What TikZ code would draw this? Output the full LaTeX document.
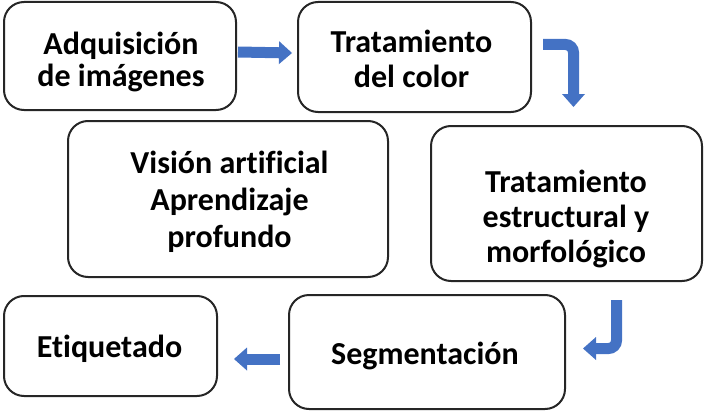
\documentclass[tikz,border=0pt]{standalone}
\usepackage{fontspec}
\setmainfont[Ligatures=CommonOff]{Carlito}
\usetikzlibrary{arrows.meta,calc}
\definecolor{arrowblue}{HTML}{4472C4}
\definecolor{boxline}{HTML}{262626}
\begin{document}
\begin{tikzpicture}[x=1pt,y=-1pt,
  box/.style={draw=boxline, line width=2pt, rounded corners=20pt, fill=white, inner sep=0pt},
  txt/.style={align=center, inner sep=0pt},
  blockarrow/.style={draw=arrowblue, line width=11pt, line cap=butt,
    -{Triangle[width=23pt,length=13pt,line width=0pt]}}]
\useasboundingbox (0,0) rectangle (704,412);
% boxes
\node[box, minimum width=232pt, minimum height=108pt] (b1) at (120,56) {};
\node[box, minimum width=233pt, minimum height=110pt] (b2) at (414.5,57) {};
\node[box, minimum width=320pt, minimum height=156pt] (b3) at (228,199) {};
\node[box, minimum width=271pt, minimum height=155pt] (b4) at (566.5,203.5) {};
\node[box, minimum width=213pt, minimum height=100pt] (b5) at (110.5,346) {};
\node[box, minimum width=276pt, minimum height=114pt] (b6) at (427,352) {};
% texts
\node[txt, font=\fontsize{32}{32}\selectfont\bfseries] (t1) at (121,62) {Adquisición\\de imágenes};
\node[txt, font=\fontsize{32}{35}\selectfont\bfseries] (t2) at (411.5,59) {Tratamiento\\del color};
\node[txt, font=\fontsize{32}{37}\selectfont\bfseries] (t3) at (229.5,202) {Visión artificial\\Aprendizaje\\profundo};
\node[txt, font=\fontsize{32}{35}\selectfont\bfseries] (t4) at (566,219) {Tratamiento\\estructural y\\morfológico};
\node[txt, font=\fontsize{32}{35}\selectfont\bfseries] (t5) at (109.5,349) {Etiquetado};
\node[txt, font=\fontsize{32}{35}\selectfont\bfseries] (t6) at (425,356) {Segmentación};
% arrows
\draw[blockarrow] ($(b1.east)+(1,-4)$) -- ($(b2.west)+(-5,-4)$);
\draw[blockarrow, rounded corners=8pt] ($(b2.east)+(11,-12.5)$) -| ($(b4.north)+(7,-18)$);
\draw[blockarrow, rounded corners=8pt] ($(b4.south)+(50,18)$) |- ($(b6.east)+(17,-3.5)$);
\draw[blockarrow] ($(b6.west)+(-8,7)$) -- ($(b5.east)+(16,13)$);
\end{tikzpicture}
\end{document}
